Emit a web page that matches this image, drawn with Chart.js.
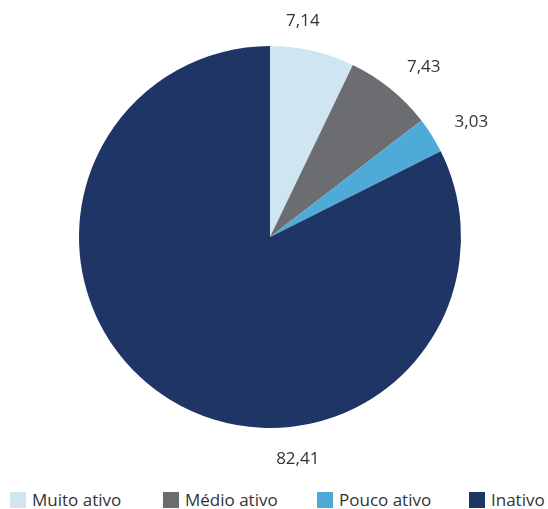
<!DOCTYPE html>
<html>
<head>
<meta charset="utf-8">
<script src="https://cdn.jsdelivr.net/npm/chart.js@4/dist/chart.umd.min.js"></script>
<style>
  html, body { margin: 0; padding: 0; background: #fff; }
  #wrap { position: relative; width: 548px; height: 509px; overflow: hidden; }
  #c { position: absolute; left: 0; top: 0; }
  #legend { position: absolute; left: 0; top: 489px; width: 548px; height: 21px; font-family: "Open Sans", "Noto Sans", sans-serif; font-size: 17px; line-height: 21px; color: #333; }
  .item { position: absolute; top: 0; height: 21px; display: flex; align-items: center; white-space: nowrap; }
  .box { width: 16px; height: 16px; margin-right: 6px; }
</style>
</head>
<body>
<div id="wrap">
  <canvas id="c" width="548" height="480"></canvas>
  <div id="legend"></div>
</div>
<script>
const categories = ["Muito ativo", "Médio ativo", "Pouco ativo", "Inativo"];
const values = [7.14, 7.43, 3.03, 82.41];
const valueLabels = ["7,14", "7,43", "3,03", "82,41"];

const colors = ["#cfe5f1", "#6c6d71", "#4eaad6", "#1f3566"];
// label placement style: angle shift (deg) from slice middle and distance beyond outer radius
const labelAngleShift = [-4.2, 3.1, 2.3, -38.8];
const labelGap = [27.5, 38, 41, 33];
const legendX = [10, 163, 317, 469];

const labelPlugin = {
  id: 'outsideLabels',
  afterDatasetsDraw(chart) {
    const ctx = chart.ctx;
    const meta = chart.getDatasetMeta(0);
    ctx.save();
    ctx.font = '17px "Open Sans", "Noto Sans", sans-serif';
    ctx.fillStyle = '#333333';
    ctx.textAlign = 'center';
    ctx.textBaseline = 'middle';
    meta.data.forEach((arc, i) => {
      const p = arc.getProps(['x', 'y', 'startAngle', 'endAngle', 'outerRadius'], true);
      const mid = (p.startAngle + p.endAngle) / 2 + labelAngleShift[i] * Math.PI / 180;
      const d = p.outerRadius + labelGap[i];
      ctx.fillText(valueLabels[i], p.x + Math.cos(mid) * d, p.y + Math.sin(mid) * d);
    });
    ctx.restore();
  }
};

new Chart(document.getElementById('c'), {
  type: 'pie',
  data: {
    labels: categories,
    datasets: [{ data: values, backgroundColor: colors, borderWidth: 0 }]
  },
  options: {
    responsive: false,
    animation: false,
    layout: { padding: { top: 46, bottom: 52, left: 79, right: 87 } },
    plugins: { legend: { display: false }, tooltip: { enabled: false } }
  },
  plugins: [labelPlugin]
});

const lg = document.getElementById('legend');
categories.forEach((c, i) => {
  const it = document.createElement('div');
  it.className = 'item';
  it.style.left = legendX[i] + 'px';
  const b = document.createElement('div');
  b.className = 'box';
  b.style.background = colors[i];
  const t = document.createElement('span');
  t.textContent = c;
  it.appendChild(b); it.appendChild(t);
  lg.appendChild(it);
});
</script>
</body>
</html>
